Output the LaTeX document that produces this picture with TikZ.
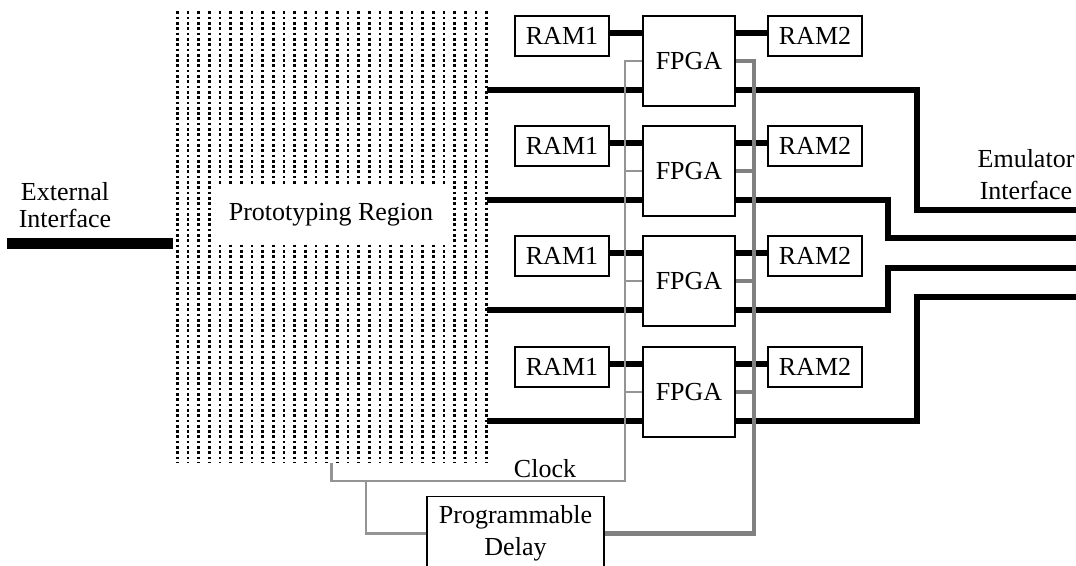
\documentclass[tikz,border=0pt]{standalone}
\usepackage{fontspec}
\setmainfont{Liberation Serif}
\begin{document}
\begin{tikzpicture}[x=0.5pt, y=-0.5pt,
    font=\fontsize{13}{16}\selectfont,
    box/.style={draw, line width=0.65pt, inner sep=0pt, align=center},
    ram/.style={box, minimum width=47pt, minimum height=20pt},
    fpga/.style={box, minimum width=46pt, minimum height=45pt},
    dots/.style={line width=1.4pt, dash pattern=on 1.35pt off 1.3pt},
    bus/.style={line width=2.65pt},
    clk/.style={line width=1.3pt, color=black!42},
    dly/.style={line width=2.2pt, color=black!50}]
  \useasboundingbox (0,0) rectangle (1076,566);

  % prototyping region
  \foreach \k in {0,...,29}
    \draw[dots] (177.3+10.67*\k, 11.5) -- (177.3+10.67*\k, 463);
  \node[fill=white, minimum width=119pt, minimum height=28.5pt] (proto) at (331,214.5) {Prototyping Region};
  \coordinate (proto-s) at (331.7,463);

  % external interface
  \node[align=center] (ext) at (65,205) {External\\[-2.5pt]Interface};
  \coordinate (ext-w) at (7,244);
  \coordinate (ext-e) at (173,244);
  \draw[line width=5.5pt] (ext-w) -- (ext-e);

  % the four rows
  \foreach \i/\t in {1/16,2/126,3/236,4/347} {
    \node[ram] (ramA\i) at (562,\t+20) {RAM1};
    \node[fpga] (fpga\i) at (689,\t+45) {FPGA};
    \node[ram] (ramB\i) at (815,\t+20) {RAM2};
    \coordinate (bus\i) at (487,\t+74);
  }
  \foreach \i in {1,...,4} {
    \draw[bus] ([yshift=1.5pt]ramA\i.east) -- ([yshift=1.5pt]ramA\i.east -| fpga\i.west);
    \draw[bus] ([yshift=1.5pt]ramB\i.west) -- ([yshift=1.5pt]ramB\i.west -| fpga\i.east);
    \draw[bus] (bus\i) -- (bus\i -| fpga\i.west);
  }

  % emulator interface
  \node[align=center] (emu) at (1026,175) {Emulator\\Interface};
  \foreach \i/\xr/\ye in {1/917/210,2/888/238,3/888/268,4/917/297} {
    \coordinate (emu\i) at (1080,\ye);
    \draw[bus] (bus\i -| fpga\i.east) -| (\xr,\ye) -- (emu\i);
  }

  % clock and delay
  \node[box, minimum width=88.5pt, minimum height=37pt] (delay) at (515.5,533.5) {Programmable\\Delay};
  \node (clock) at (545,469) {Clock};
  \coordinate (clk) at (625,481);
  \coordinate (clk-b) at (366,481);
  \coordinate (dly) at (754,533.5);
  \draw[clk] (proto-s) |- (clk) |- (fpga1.west);
  \draw[clk] (clk-b) |- (delay.west);
  \draw[dly] (delay.east) -- (dly) |- (fpga1.east);
  \foreach \i in {2,3,4} {
    \draw[clk] (fpga\i.west) -- (fpga\i.west -| clk);
    \draw[dly] (fpga\i.east) -- (fpga\i.east -| dly);
  }
\end{tikzpicture}
\end{document}
